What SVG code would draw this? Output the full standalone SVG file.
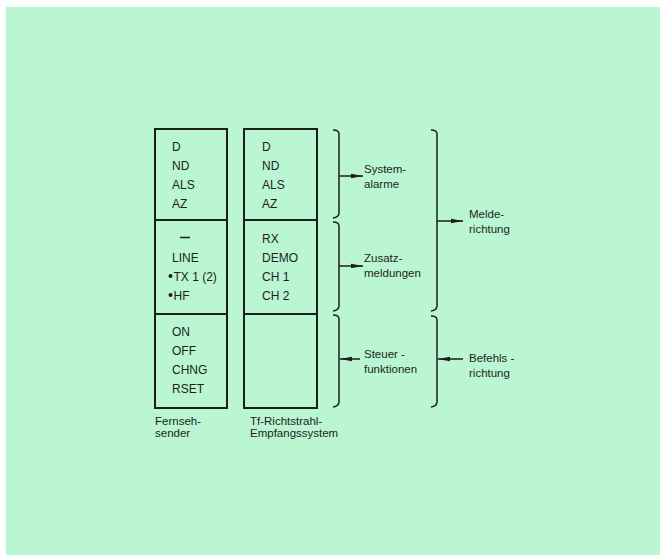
<svg xmlns="http://www.w3.org/2000/svg" width="660" height="555" viewBox="0 0 660 555">
<style>
text{font-family:"Liberation Sans","DejaVu Sans",sans-serif;font-size:12px;fill:#1e1e1e}
.lbl{font-size:11.5px}
.box{fill:none;stroke:#1e1e1e;stroke-width:2}
.br{fill:none;stroke:#1e1e1e;stroke-width:1.5}
.ar{stroke:#1e1e1e;stroke-width:1.5;fill:none}
</style>
<defs>
<marker id="ah" viewBox="0 0 12 6" refX="12" refY="3" markerWidth="12" markerHeight="6" markerUnits="userSpaceOnUse" orient="auto">
<path d="M0,0.8 L12,3 L0,5.2 Z" fill="#1e1e1e"/>
</marker>
</defs>
<rect x="0" y="0" width="660" height="555" fill="#fdfffd"/>
<rect x="6" y="7" width="654" height="548" fill="#b9f6d1"/>

<g id="fernsehsender">
<rect class="box" x="155" y="129" width="72" height="279"/>
<line class="box" x1="155" y1="220" x2="227" y2="220"/>
<line class="box" x1="155" y1="314" x2="227" y2="314"/>
<text x="172" y="151">D</text>
<text x="172" y="170">ND</text>
<text x="172" y="189">ALS</text>
<text x="172" y="208">AZ</text>
<line x1="180" y1="237.5" x2="190" y2="237.5" stroke="#1e1e1e" stroke-width="1.5"/>
<text x="172" y="262">LINE</text>
<circle cx="170.5" cy="276" r="2" fill="#1e1e1e"/>
<text x="173.5" y="281">TX 1 (2)</text>
<circle cx="170.5" cy="295" r="2" fill="#1e1e1e"/>
<text x="173.5" y="300">HF</text>
<text x="172" y="336">ON</text>
<text x="172" y="355">OFF</text>
<text x="172" y="374">CHNG</text>
<text x="172" y="393">RSET</text>
<text class="lbl" x="155" y="425">Fernseh-</text>
<text class="lbl" x="155" y="437">sender</text>
</g>

<g id="empfangssystem">
<rect class="box" x="244" y="129" width="73" height="279"/>
<line class="box" x1="244" y1="220" x2="317" y2="220"/>
<line class="box" x1="244" y1="314" x2="317" y2="314"/>
<text x="262" y="151">D</text>
<text x="262" y="170">ND</text>
<text x="262" y="189">ALS</text>
<text x="262" y="208">AZ</text>
<text x="262" y="243">RX</text>
<text x="262" y="262">DEMO</text>
<text x="262" y="281">CH  1</text>
<text x="262" y="300">CH  2</text>
<text class="lbl" x="250" y="425">Tf-Richtstrahl-</text>
<text class="lbl" x="250" y="437">Empfangssystem</text>
</g>

<g id="systemalarme">
<path class="br" d="M333,130 Q339,130 339,134 L339,213 Q339,217 333,218"/>
<text class="lbl" x="364" y="173">System-</text>
<text class="lbl" x="364" y="188">alarme</text>
</g>
<g id="zusatzmeldungen">
<path class="br" d="M333,222 Q339,222 339,226 L339,306 Q339,310 333,311"/>
<text class="lbl" x="364" y="262">Zusatz-</text>
<text class="lbl" x="364" y="277">meldungen</text>
</g>
<g id="steuerfunktionen">
<path class="br" d="M333,315 Q339,315 339,319 L339,402 Q339,406 333,407"/>
<text class="lbl" x="364" y="358">Steuer -</text>
<text class="lbl" x="364" y="373">funktionen</text>
</g>
<g id="melderichtung">
<path class="br" d="M431,130 Q437,130 437,134 L437,306 Q437,310 431,311"/>
<text class="lbl" x="469" y="218">Melde-</text>
<text class="lbl" x="469" y="233">richtung</text>
</g>
<g id="befehlsrichtung">
<path class="br" d="M431,316 Q437,316 437,320 L437,402 Q437,406 431,407"/>
<text class="lbl" x="469" y="362">Befehls -</text>
<text class="lbl" x="469" y="377">richtung</text>
</g>

<g id="connectors">
<line class="ar" x1="339" y1="176" x2="363" y2="176" marker-end="url(#ah)"/>
<line class="ar" x1="339" y1="266" x2="363" y2="266" marker-end="url(#ah)"/>
<line class="ar" x1="360" y1="359" x2="340" y2="359" marker-end="url(#ah)"/>
<line class="ar" x1="437" y1="221" x2="463" y2="221" marker-end="url(#ah)"/>
<line class="ar" x1="463" y1="359" x2="438" y2="359" marker-end="url(#ah)"/>
</g>
</svg>
